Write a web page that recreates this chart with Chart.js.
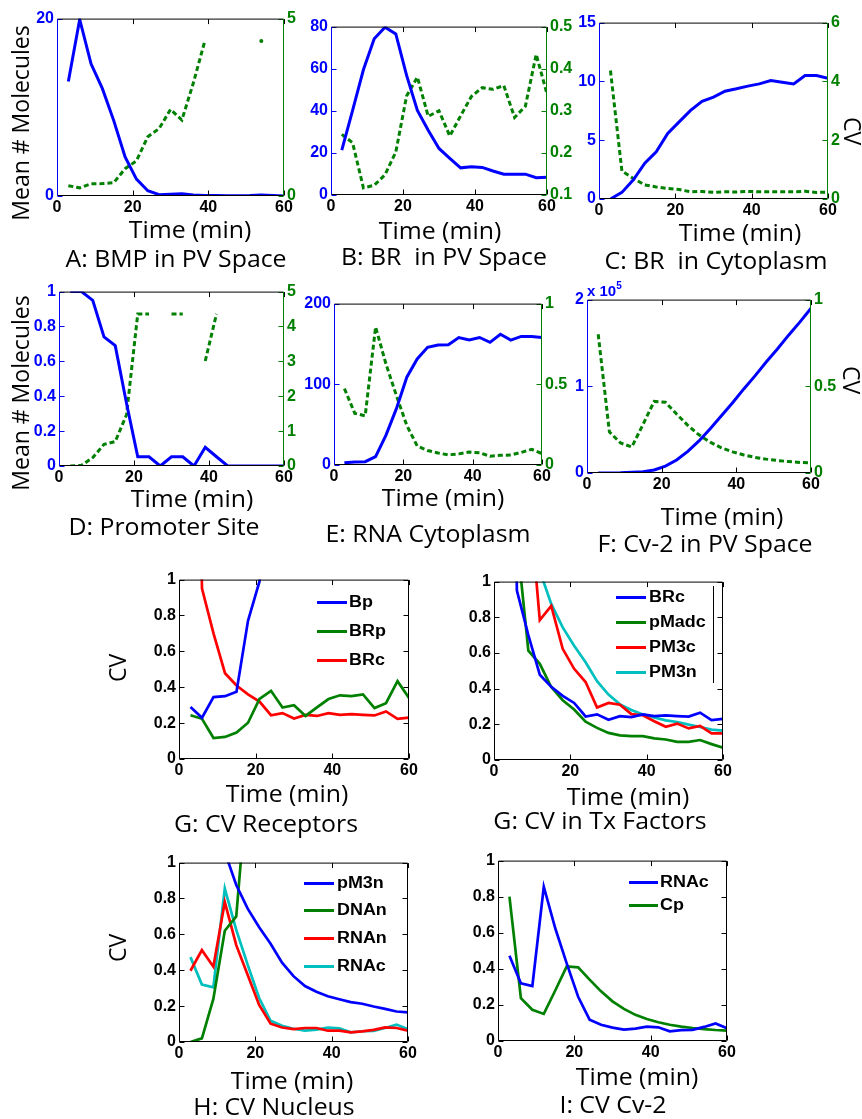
<!DOCTYPE html>
<html>
<head>
<meta charset="utf-8">
<script src="https://cdn.jsdelivr.net/npm/chart.js@4.4.0/dist/chart.umd.min.js"></script>
<style>
html, body { margin: 0; padding: 0; background: #fff; }
#fig { position: relative; width: 862px; height: 1119px; overflow: hidden; }
#fig canvas { position: absolute; }
.txt { position: absolute; white-space: pre; line-height: 1; color: #000; z-index: 5; }
.lab { font-family: "Open Sans", sans-serif; font-size: 23px; }
.leg { font-family: "Liberation Sans", Arial, sans-serif; font-weight: bold; font-size: 16px; }
.sw { position: absolute; height: 3px; z-index: 5; }
</style>
</head>
<body>
<div id="fig"></div>
<script>
// ── Data (sampled every 3 minutes) ────────────────────────────────────────────
const minutes = [3, 6, 9, 12, 15, 18, 21, 24, 27, 30, 33, 36, 39, 42, 45, 48, 51, 54, 57, 60];

// mean molecule counts
const bmpMean      = [12.9, 19.9, 14.9, 12.1, 8.5, 4.4, 1.9, 0.6, 0.15, 0.2, 0.25, 0.1, 0.05, 0.05, 0.03, 0.03, 0.05, 0.1, 0.05, 0];
const brPvMean     = [21.3, 40.2, 59.5, 74.2, 79.7, 76.5, 56.8, 40.2, 30.8, 22.1, 17.4, 12.9, 13.4, 13.1, 11.4, 9.9, 9.9, 9.9, 8.2, 8.4];
const brCytoMean   = [0, 0.56, 1.63, 3.04, 4.02, 5.57, 6.56, 7.54, 8.3, 8.67, 9.17, 9.37, 9.6, 9.79, 10.07, 9.93, 9.79, 10.5, 10.5, 10.27];
const promoterMean = [1, 1, 0.95, 0.74, 0.69, 0.36, 0.053, 0.053, 0, 0.053, 0.053, 0, 0.107, 0.053, 0, 0, 0, 0, 0, 0];
const rnaCytoMean  = [2.9, 3.7, 4.1, 10.3, 37, 69.8, 108.8, 131.4, 145.8, 148.7, 149.1, 158, 154.8, 158, 152, 162, 154.8, 159.3, 159.3, 158];
const cv2PvMean    = [0, 100, 300, 800, 1500, 3500, 8000, 15000, 25000, 37000, 51000, 66000, 81000, 97000, 112000, 128000, 143000, 159000, 174000, 190000];

// coefficients of variation
const cvBp    = [0.29, 0.23, 0.345, 0.35, 0.375, 0.77, 0.99, 1.67, 1.9, 2.44, 2.14, 3.17, 4.34, null, null, null, null, 4.37, null, null];
const cvBRp   = [0.244, 0.224, 0.117, 0.123, 0.148, 0.202, 0.335, 0.38, 0.287, 0.3, 0.24, 0.288, 0.334, 0.355, 0.351, 0.36, 0.284, 0.311, 0.434, 0.34];
const cvBRc   = [4.37, 0.95, 0.7, 0.478, 0.41, 0.36, 0.32, 0.244, 0.256, 0.226, 0.246, 0.24, 0.256, 0.246, 0.25, 0.246, 0.243, 0.265, 0.224, 0.231];
const cvDNAn  = [0, 0.02, 0.24, 0.62, 0.7, 1.47, 4.36, 4.36, null, 4.36, 4.36, null, 3.01, 4.36, null, null, null, null, null, null];
const cvRNAc  = [0.473, 0.32, 0.305, 0.855, 0.625, 0.43, 0.245, 0.118, 0.09, 0.074, 0.063, 0.069, 0.08, 0.076, 0.054, 0.06, 0.062, 0.078, 0.097, 0.071];
const cvCp    = [0.8, 0.237, 0.173, 0.15, 0.28, 0.413, 0.408, 0.34, 0.275, 0.22, 0.178, 0.145, 0.122, 0.104, 0.09, 0.08, 0.072, 0.066, 0.061, 0.058];
const cvPMadc = [null, 1.24, 0.613, 0.539, 0.409, 0.335, 0.283, 0.215, 0.18, 0.152, 0.138, 0.134, 0.134, 0.121, 0.115, 0.102, 0.102, 0.112, 0.089, 0.069];
const cvPM3c  = [null, null, 1.52, 0.784, 0.864, 0.623, 0.511, 0.437, 0.294, 0.32, 0.31, 0.257, 0.251, 0.217, 0.186, 0.204, 0.177, 0.191, 0.149, 0.149];
const cvPM3n  = [null, null, null, 1.06, 0.875, 0.743, 0.64, 0.548, 0.442, 0.367, 0.312, 0.28, 0.255, 0.238, 0.222, 0.213, 0.198, 0.185, 0.17, 0.165];
const cvRNAn  = [0.397, 0.512, 0.42, 0.78, 0.54, 0.373, 0.207, 0.102, 0.081, 0.072, 0.078, 0.078, 0.063, 0.063, 0.054, 0.059, 0.068, 0.081, 0.078, 0.063];

// ── Styles ────────────────────────────────────────────────────────────────────
const BLUE  = "#0000ff";
const GREEN = "#008000";
const RED   = "#ff0000";
const CYAN  = "#00bfbf";
const TICK_FONT = { family: "Liberation Sans", weight: "bold", size: 16 };

const fig = document.getElementById("fig");

// ── Panels: plot area [left, top, right, bottom] in page pixels ──────────────
const panels = [
    { area: [57, 18, 284, 196],  left: { max: 20, step: 20, color: BLUE }, right: { max: 5, step: 5, color: GREEN },
      series: [{ data: bmpMean, color: BLUE }, { data: cvBp, color: GREEN, y2: true }] },
    { area: [331, 26, 547, 195], left: { max: 80, step: 20, color: BLUE }, right: { min: 0.1, max: 0.5, step: 0.1, color: GREEN },
      series: [{ data: brPvMean, color: BLUE }, { data: cvBRp, color: GREEN, y2: true }] },
    { area: [599, 22, 828, 199], left: { max: 15, step: 5, color: BLUE }, right: { max: 6, step: 2, color: GREEN },
      series: [{ data: brCytoMean, color: BLUE }, { data: cvBRc, color: GREEN, y2: true }] },
    { area: [59, 291, 284, 466], left: { max: 1, step: 0.2, color: BLUE }, right: { max: 5, step: 1, color: GREEN },
      series: [{ data: promoterMean, color: BLUE }, { data: cvDNAn, color: GREEN, y2: true }] },
    { area: [334, 303, 542, 465], left: { max: 200, step: 100, color: BLUE }, right: { max: 1, step: 0.5, color: GREEN },
      series: [{ data: rnaCytoMean, color: BLUE }, { data: cvRNAc, color: GREEN, y2: true }] },
    { area: [587, 299, 811, 473], left: { max: 200000, step: 100000, color: BLUE, div: 1e5 }, right: { max: 1, step: 0.5, color: GREEN },
      series: [{ data: cv2PvMean, color: BLUE }, { data: cvCp, color: GREEN, y2: true }] },
    { area: [179, 579, 409, 759], left: { max: 1, step: 0.2, color: "#000" }, thin: true,
      series: [{ data: cvBp, color: BLUE }, { data: cvBRp, color: GREEN }, { data: cvBRc, color: RED }] },
    { area: [494, 581, 723, 760], left: { max: 1, step: 0.2, color: "#000" }, thin: true,
      series: [{ data: cvBRc, color: BLUE }, { data: cvPMadc, color: GREEN }, { data: cvPM3c, color: RED }, { data: cvPM3n, color: CYAN }] },
    { area: [179, 862, 408, 1042], left: { max: 1, step: 0.2, color: "#000" }, thin: true,
      series: [{ data: cvPM3n, color: BLUE }, { data: cvDNAn, color: GREEN }, { data: cvRNAn, color: RED }, { data: cvRNAc, color: CYAN }] },
    { area: [498, 860, 727, 1041], left: { max: 1, step: 0.2, color: "#000" }, thin: true,
      series: [{ data: cvRNAc, color: BLUE }, { data: cvCp, color: GREEN }] },
];

// ── Frame with inward MATLAB-style ticks ─────────────────────────────────────
const framePlugin = {
    id: "frame",
    afterDatasetsDraw(chart) {
        const { ctx, chartArea: a, scales } = chart;
        const tl = 5;
        const seg = (x1, y1, x2, y2, c) => {
            ctx.strokeStyle = c;
            ctx.beginPath(); ctx.moveTo(x1, y1); ctx.lineTo(x2, y2); ctx.stroke();
        };
        ctx.save();
        ctx.lineWidth = 1;
        const L = a.left + 0.5, R = a.right - 0.5, T = a.top + 0.5, B = a.bottom - 0.5;
        scales.x.ticks.forEach(t => {
            const px = Math.round(scales.x.getPixelForValue(t.value)) + 0.5;
            seg(px, B, px, B - tl, "#000");
            seg(px, T, px, T + tl, "#000");
        });
        const yc = scales.y.options.border.color;
        scales.y.ticks.forEach(t => {
            const py = Math.round(scales.y.getPixelForValue(t.value)) + 0.5;
            seg(L, py, L + tl, py, yc);
            if (!scales.y2) seg(R, py, R - tl, py, "#000");
        });
        let rc = "#000";
        if (scales.y2) {
            rc = scales.y2.options.border.color;
            scales.y2.ticks.forEach(t => {
                const py = Math.round(scales.y2.getPixelForValue(t.value)) + 0.5;
                seg(R, py, R - tl, py, rc);
            });
        }
        seg(L, T, R, T, "#000");
        seg(L, B, R, B, "#000");
        seg(L, T, L, B, yc);
        seg(R, T, R, B, rc);
        ctx.restore();
    }
};

function axisOpts(ax, side, size) {
    return {
        type: "linear",
        position: side,
        min: ax.min ?? 0,
        max: ax.max,
        ticks: {
            stepSize: ax.step,
            color: ax.color,
            font: TICK_FONT,
            padding: 3,
            autoSkip: false,
            callback: v => ax.div ? +(v / ax.div).toFixed(2) : +v.toFixed(2),
        },
        grid: { display: false, drawTicks: false },
        border: { display: false, color: ax.color },
        afterFit: s => { s.width = size; },
    };
}

function isolated(arr) {
    return ctx => {
        const i = ctx.dataIndex;
        return arr[i] != null && arr[i - 1] == null && arr[i + 1] == null ? 2 : 0;
    };
}

function makePanel(p) {
    const [L, T, R, B] = p.area;
    const padL = 50, padR = 50, padT = 12, padB = 24;
    const cv = document.createElement("canvas");
    cv.width  = R - L + padL + padR;
    cv.height = B - T + padT + padB;
    cv.style.left = (L - padL) + "px";
    cv.style.top  = (T - padT) + "px";
    fig.appendChild(cv);

    const scales = {
        x: {
            type: "linear", min: 0, max: 60,
            ticks: { stepSize: 20, color: "#000", font: TICK_FONT, padding: 2, maxRotation: 0, autoSkip: false },
            grid: { display: false, drawTicks: false },
            border: { display: false },
            afterFit: s => { s.height = padB; },
        },
        y: axisOpts(p.left, "left", padL),
    };
    if (p.right) scales.y2 = axisOpts(p.right, "right", padR);

    const datasets = p.series.map(s => ({
        data: minutes.map((m, i) => ({ x: m, y: s.data[i] })),
        yAxisID: s.y2 ? "y2" : "y",
        borderColor: s.color,
        backgroundColor: s.color,
        borderWidth: p.thin ? 2.7 : 3,
        borderDash: s.y2 ? [5, 3] : [],
        pointRadius: s.y2 ? isolated(s.data) : 0,
        pointBorderWidth: 0,
        tension: 0,
        spanGaps: false,
    }));

    new Chart(cv, {
        type: "line",
        data: { datasets },
        options: {
            responsive: false,
            animation: false,
            events: [],
            layout: { autoPadding: false, padding: { top: padT, right: p.right ? 0 : padR, left: 0, bottom: 0 } },
            plugins: { legend: { display: false }, tooltip: { enabled: false } },
            scales,
        },
        plugins: [framePlugin],
    });
}

panels.forEach(makePanel);

// ── Text ──────────────────────────────────────────────────────────────────────
function addText(text, cx, cy, cls, rot, sx) {
    const el = document.createElement("div");
    el.className = "txt " + cls;
    el.textContent = text;
    el.style.left = cx + "px";
    el.style.top  = cy + "px";
    el.style.transform = `translate(-50%,-50%) rotate(${rot || 0}deg) scaleX(${sx || 1})`;
    fig.appendChild(el);
}

const timeLabels = [[190, 229], [440, 230], [740, 232], [192, 498], [443, 497], [722, 516], [287, 793], [628, 796], [292, 1080], [637, 1076]];
timeLabels.forEach(([x, y]) => addText("Time (min)", x, y, "lab", 0, 1.08));

const captions = [
    ["A: BMP in PV Space", 176, 258], ["B: BR  in PV Space", 444, 256], ["C: BR  in Cytoplasm", 716, 260],
    ["D: Promoter Site", 164, 526], ["E: RNA Cytoplasm", 428, 533], ["F: Cv-2 in PV Space", 705, 543],
    ["G: CV Receptors", 266, 823], ["G: CV in Tx Factors", 600, 820],
    ["H: CV Nucleus", 274, 1106], ["I: CV Cv-2", 613, 1104],
];
captions.forEach(([t, x, y]) => addText(t, x, y, "lab", 0, 1.08));

addText("Mean # Molecules", 20, 123, "lab", -90);
addText("Mean # Molecules", 20, 393, "lab", -90);
addText("CV", 852, 131, "lab", 90);
addText("CV", 851, 380, "lab", 90);
addText("CV", 117, 668, "lab", -90);
addText("CV", 117, 948, "lab", -90);

// x 10^5 multiplier for panel F
const mult = document.createElement("div");
mult.className = "txt";
mult.style.cssText = "left:587px;top:282px;font:bold 15px 'Liberation Sans';color:" + BLUE;
mult.innerHTML = "x 10<span style='font-size:10px;position:relative;top:-7px'>5</span>";
fig.appendChild(mult);

// ── Legends ───────────────────────────────────────────────────────────────────
function addLegend(x1, x2, tx, rows) {
    rows.forEach(([label, color, y]) => {
        const sw = document.createElement("div");
        sw.className = "sw";
        sw.style.cssText += `left:${x1}px;width:${x2 - x1}px;top:${y - 1.5}px;background:${color}`;
        fig.appendChild(sw);
        const el = document.createElement("div");
        el.className = "txt leg";
        el.textContent = label;
        el.style.left = tx + "px";
        el.style.top = y + "px";
        el.style.transformOrigin = "0 50%";
        el.style.transform = "translateY(-50%) scaleX(1.12)";
        fig.appendChild(el);
    });
}
addLegend(317, 347, 349, [["Bp", BLUE, 602], ["BRp", GREEN, 631], ["BRc", RED, 660]]);
addLegend(616, 646, 649, [["BRc", BLUE, 597], ["pMadc", GREEN, 622], ["PM3c", RED, 647], ["PM3n", CYAN, 672]]);
addLegend(304, 334, 337, [["pM3n", BLUE, 883], ["DNAn", GREEN, 910], ["RNAn", RED, 938], ["RNAc", CYAN, 966]]);
addLegend(629, 658, 660, [["RNAc", BLUE, 882], ["Cp", GREEN, 905]]);

// partial legend box edge in the Tx factors panel
const edge = document.createElement("div");
edge.style.cssText = "position:absolute;left:713px;top:586px;width:1px;height:97px;background:#000;z-index:5";
fig.appendChild(edge);
</script>
</body>
</html>
